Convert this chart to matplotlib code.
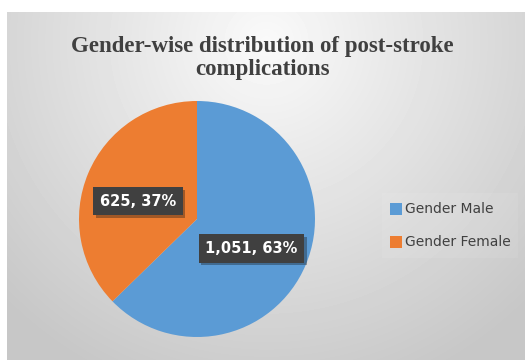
import matplotlib.pyplot as plt
import matplotlib.patheffects as pe
import numpy as np

labels = ['Gender Male', 'Gender Female']
counts = [1051, 625]
pcts = [63, 37]
colors = ['#5B9BD5', '#ED7D31']

W, H = 525, 360
fig = plt.figure(figsize=(W / 100, H / 100), dpi=100)
fig.patch.set_facecolor('white')

# radial grey background of the chart area
bg = fig.add_axes([7 / W, 0, 1 - 7 / W, 1 - 12 / H])
bg.set_axis_off()
yy, xx = np.mgrid[0:348, 0:518]
d = np.sqrt(((xx - 259) / 330) ** 2 + ((yy - 30) / 330) ** 2)
shade = np.clip(0.98 - 0.18 * d, 0.78, 1)
bg.imshow(shade, cmap='gray', vmin=0, vmax=1, aspect='auto', interpolation='bilinear')

# pie
ax = fig.add_axes([(197 - 118) / W, (H - 219 - 118) / H, 236 / W, 236 / H])
ax.pie(counts, colors=colors, startangle=90, counterclock=False,
       wedgeprops=dict(linewidth=0))
ax.set_aspect('equal')
ax.set_xlim(-1, 1)
ax.set_ylim(-1, 1)

box = dict(boxstyle='square,pad=0.45', fc='#404040', ec='none',
           path_effects=[pe.withSimplePatchShadow(offset=(2, -2), alpha=0.35)])
ax.text(0.46, -0.25, f'{counts[0]:,}, {pcts[0]}%', color='white', fontsize=10.5,
        fontweight='bold', ha='center', va='center', bbox=box)
ax.text(-0.5, 0.15, f'{counts[1]:,}, {pcts[1]}%', color='white', fontsize=10.5,
        fontweight='bold', ha='center', va='center', bbox=box)

fig.text(0.5, 1 - 58 / H, 'Gender-wise distribution of post-stroke\ncomplications',
         ha='center', va='center', fontsize=16.5, fontweight='bold',
         family='Liberation Serif', color='#404040', linespacing=1.1)

# legend
fig.patches.append(plt.Rectangle((382 / W, 1 - 258 / H), 136 / W, 65 / H,
                                 transform=fig.transFigure, fc='white', alpha=0.08, ec='none'))
for i, lab in enumerate(labels):
    y = 1 - (209 + 33 * i) / H
    fig.patches.append(plt.Rectangle((390 / W, y - 6 / H), 12 / W, 12 / H,
                                     transform=fig.transFigure, fc=colors[i], ec='none'))
    fig.text(405 / W, y, lab, ha='left', va='center', fontsize=10,
             color='#404040', family='DejaVu Sans')

fig.savefig('out.png', dpi=100)
